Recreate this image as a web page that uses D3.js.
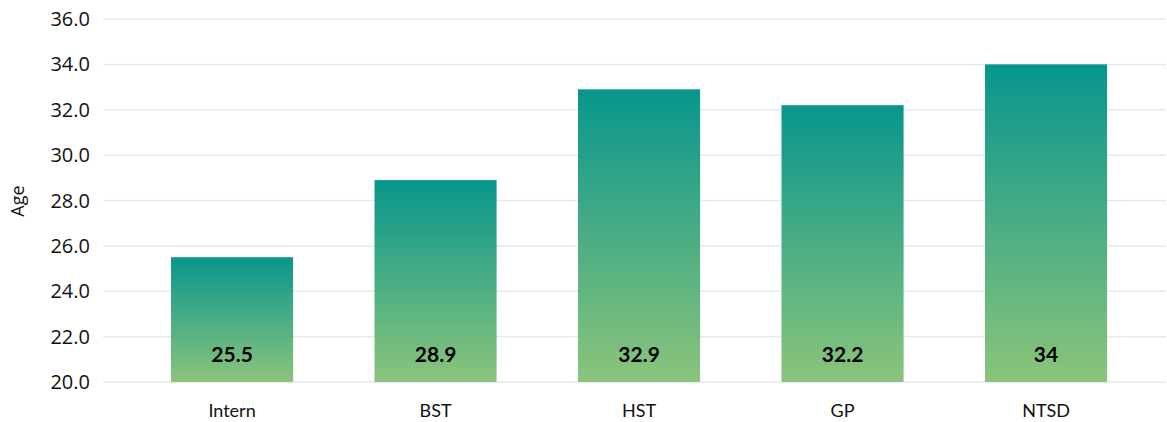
<!DOCTYPE html>
<html>
<head>
<meta charset="utf-8">
<script src="https://cdn.jsdelivr.net/npm/d3@7"></script>
<style>
  html, body { margin: 0; padding: 0; background: #fff; }
  svg { display: block; }
</style>
</head>
<body>
<svg id="chart" width="1167" height="422"></svg>
<script>
const categories = ["Intern", "BST", "HST", "GP", "NTSD"];
const values = [25.5, 28.9, 32.9, 32.2, 34];
const valueLabels = ["25.5", "28.9", "32.9", "32.2", "34"];
const yTicks = [20, 22, 24, 26, 28, 30, 32, 34, 36];
const yTitle = "Age";

const svg = d3.select("#chart");
const gridX0 = 103, gridX1 = 1166;
const y = d3.scaleLinear().domain([20, 36]).range([382, 19]);
const x = d3.scaleBand().domain(categories).range([130.3, 1147.8])
  .paddingInner(0.4).paddingOuter(0.2);

const defs = svg.append("defs");
const grad = defs.append("linearGradient").attr("id", "barGrad")
  .attr("x1", 0).attr("y1", 0).attr("x2", 0).attr("y2", 1);
grad.append("stop").attr("offset", "0%").attr("stop-color", "#08968d");
grad.append("stop").attr("offset", "100%").attr("stop-color", "#8bc47b");

// gridlines
svg.append("g").selectAll("line").data(yTicks).join("line")
  .attr("x1", gridX0).attr("x2", gridX1)
  .attr("y1", d => y(d)).attr("y2", d => y(d))
  .attr("stroke", "#e7e9ee").attr("stroke-width", 1.5);

// y tick labels
svg.append("g").selectAll("text").data(yTicks).join("text")
  .attr("x", 90).attr("y", d => y(d))
  .attr("dy", "0.35em")
  .attr("text-anchor", "end")
  .attr("font-family", "'Open Sans', sans-serif")
  .attr("font-size", 20)
  .attr("fill", "#111")
  .text(d => d.toFixed(1));

// y title
svg.append("text")
  .attr("transform", "translate(24,201) rotate(-90)")
  .attr("text-anchor", "middle")
  .attr("font-family", "'Open Sans', sans-serif")
  .attr("font-size", 18)
  .attr("fill", "#111")
  .text(yTitle);

// bars
svg.append("g").selectAll("rect").data(values).join("rect")
  .attr("x", (d, i) => x(categories[i]))
  .attr("width", x.bandwidth())
  .attr("y", d => y(d))
  .attr("height", d => y(20) - y(d))
  .attr("fill", "url(#barGrad)");

// value labels
svg.append("g").selectAll("text").data(values).join("text")
  .attr("x", (d, i) => x(categories[i]) + x.bandwidth() / 2)
  .attr("y", 355)
  .attr("dy", "0.35em")
  .attr("text-anchor", "middle")
  .attr("font-family", "Lato, sans-serif")
  .attr("font-weight", "bold")
  .attr("font-size", 21)
  .attr("fill", "#000")
  .text((d, i) => valueLabels[i]);

// x labels
svg.append("g").selectAll("text").data(categories).join("text")
  .attr("x", d => x(d) + x.bandwidth() / 2)
  .attr("y", 417)
  .attr("text-anchor", "middle")
  .attr("font-family", "Lato, sans-serif")
  .attr("font-size", 18)
  .attr("fill", "#111")
  .text(d => d);
</script>
</body>
</html>
